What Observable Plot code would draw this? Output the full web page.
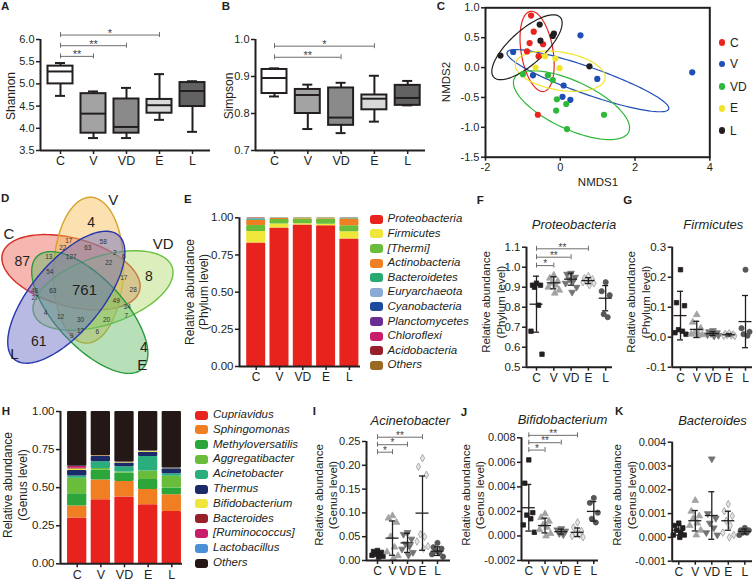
<!DOCTYPE html>
<html><head><meta charset="utf-8">
<script src="https://cdn.jsdelivr.net/npm/d3@7"></script>
<script src="https://cdn.jsdelivr.net/npm/@observablehq/plot@0.6"></script>
<style>
body{margin:0;background:#fff;}
#root{position:relative;width:756px;height:581px;overflow:hidden;font-family:"Liberation Sans",Arial,Helvetica,sans-serif;color:#231f20;}
.lbl{position:absolute;white-space:nowrap;line-height:1;}
</style></head><body><div id="root"></div>
<script>
// ---------------- DATA ----------------
const groups = ["C", "V", "VD", "E", "L"];

// A: Shannon box plots
const shannonLow  = [4.73, 3.78, 3.78, 4.19, 3.92];
const shannonQ1   = [5.00, 3.89, 3.89, 4.34, 4.49];
const shannonMed  = [5.28, 4.33, 4.03, 4.52, 4.84];
const shannonQ3   = [5.40, 4.78, 4.66, 4.65, 5.03];
const shannonHigh = [5.47, 4.83, 4.91, 5.22, 5.06];
const shannonSig = [["C", "V", "**"], ["C", "VD", "**"], ["C", "E", "*"]];

// B: Simpson box plots
const simpsonLow  = [0.846, 0.758, 0.747, 0.778, 0.822];
const simpsonQ1   = [0.854, 0.800, 0.768, 0.810, 0.822];
const simpsonMed  = [0.896, 0.850, 0.789, 0.840, 0.842];
const simpsonQ3   = [0.919, 0.865, 0.869, 0.850, 0.876];
const simpsonHigh = [0.922, 0.878, 0.883, 0.902, 0.888];
const simpsonSig = [["C", "VD", "**"], ["C", "E", "*"]];
const boxFills = ["#ffffff", "#a3a3a3", "#8a8a8a", "#d9d9d9", "#626262"];

// C: NMDS points
const nmdsX = {
  C:  [-0.78, -0.71, -0.82, -0.46, -0.89, -0.58, -0.60],
  V:  [0.54, -1.26, -0.73, 0.09, 0.99, 0.06, 0.27, 3.53],
  VD: [-1.00, -0.33, -0.20, -0.09, 0.16, -0.11, 1.17, 0.18],
  E:  [-0.41, -0.13, -0.02, -0.66],
  L:  [-0.55, -0.17, -0.20, -0.53, -1.60, 0.78]
};
const nmdsY = {
  C:  [0.87, 0.60, 0.41, 0.39, 0.27, 0.19, -0.79],
  V:  [0.54, 0.26, -0.13, -0.30, -0.19, -0.49, -0.54, -0.08],
  VD: [-0.11, -0.13, -0.21, -0.53, -0.61, -0.72, -0.79, -1.03],
  E:  [0.19, 0.15, -0.01, 0.00],
  L:  [0.72, 0.57, 0.53, 0.45, 0.20, 0.02]
};
const nmdsColors = ["#e8251f", "#1f4fb4", "#2db83a", "#f1e52a", "#231f20"];
// confidence ellipses: centre + two conjugate half-axes (data units), order C,V,VD,E,L
const ellCx = [-0.62, 0.74, 0.30, 0.00, -0.89];
const ellCy = [0.27, -0.22, -0.63, -0.06, 0.34];
const ellAx = [-0.18, 2.16, 1.53, 1.20, 0.89];
const ellAy = [0.67, -0.445, -0.447, -0.127, 0.50];
const ellBx = [0.42, 0.142, -0.27, -0.086, 0.305];
const ellBy = [0.044, -0.269, -0.363, -0.313, -0.21];

// D: Venn (5 sets)
const vennSets   = ["C", "V", "VD", "E", "L"];
const vennStroke = ["#d42a22", "#d9a12b", "#6cc143", "#2a9a3c", "#2636ad"];
const vennFill   = ["#ec5f50", "#f5bd4e", "#b3da6c", "#5fba63", "#6466c4"];
const vennCx = [70.5, 88.0, 102.5, 89.3, 65.8];
const vennCy = [271.7, 269.7, 290.0, 312.0, 296.7];
const vennA  = [71, 73, 73, 77, 81];
const vennB  = [34, 35, 34, 34, 35];
const vennAngle = [15, -88, -18.6, 47, -50];
const vennSetLabelX = [8.3, 112.7, 162.7, 141.7, 14];
const vennSetLabelY = [233.3, 199.3, 243.3, 365, 353.3];
const vennBig  = ["87", "4", "8", "4", "61", "761"];
const vennBigX = [21.7, 90.7, 148.3, 143.3, 38.3, 84];
const vennBigY = [260.7, 221.7, 276, 347.3, 340.7, 289.3];
const vennSmall  = ["17","58","22","63","13","127","2","6","22","54","17","28","48","63","27","49","34","7","4","12","30","20","17","6","9"];
const vennSmallX = [68.3,102.7,62.3,87.3,48.3,70.7,114.3,123.3,108.3,49.3,123.3,132.7,34,52.3,34.5,115.7,126.7,125.7,45,60,80,106,80,96.7,71];
const vennSmallY = [240.7,241.7,247.3,247.3,256,256,252.7,256,262.3,271.7,277.3,289.3,290,290.7,297.5,300.7,306.7,315,312.7,316.7,319,319.3,330.7,331.7,335.7];

// E: phylum composition
const phyla = ["Proteobacteria", "Firmicutes", "[Thermi]", "Actinobacteria", "Bacteroidetes", "Euryarchaeota", "Cyanobacteria", "Planctomycetes", "Chloroflexi", "Acidobacteria", "Others"];
const phylumColors = ["#e8231e", "#efe63a", "#6abd3a", "#ef7f22", "#27a96f", "#8aaad6", "#1c4b9e", "#6a2d92", "#c81e6a", "#981e2a", "#9b6a22"];
const phylumC  = [0.830, 0.078, 0.040, 0.035, 0.008, 0.002, 0.002, 0.001, 0.001, 0.001, 0.002];
const phylumV  = [0.932, 0.026, 0.030, 0.008, 0.001, 0.001, 0.001, 0.000, 0.000, 0.000, 0.001];
const phylumVD = [0.952, 0.008, 0.032, 0.005, 0.001, 0.0005, 0.0005, 0.000, 0.000, 0.000, 0.001];
const phylumE  = [0.946, 0.010, 0.036, 0.005, 0.001, 0.0005, 0.0005, 0.000, 0.000, 0.000, 0.001];
const phylumL  = [0.857, 0.050, 0.040, 0.045, 0.004, 0.001, 0.001, 0.000, 0.000, 0.000, 0.002];

// F: Proteobacteria
const proteoValues = [
  [0.92, 0.91, 0.91, 0.90, 0.81, 0.68, 0.565],
  [0.96, 0.945, 0.93, 0.92, 0.91, 0.90, 0.885, 0.87],
  [0.97, 0.965, 0.95, 0.94, 0.93, 0.92, 0.90, 0.875],
  [0.955, 0.945, 0.94, 0.935, 0.93, 0.925, 0.92, 0.91],
  [0.925, 0.88, 0.86, 0.765, 0.75]
];
const proteoMean = [0.815, 0.922, 0.940, 0.933, 0.845];
const proteoSD   = [0.140, 0.030, 0.030, 0.015, 0.063];
const proteoSig = [["C", "V", "*"], ["C", "VD", "**"], ["C", "E", "**"]];

// G: Firmicutes
const firmValues = [
  [0.225, 0.115, 0.105, 0.025, 0.020, 0.015, 0.010],
  [0.075, 0.050, 0.030, 0.015, 0.010, 0.010, 0.008, 0.005],
  [0.022, 0.018, 0.015, 0.012, 0.010, 0.008, 0.006, 0.004],
  [0.013, 0.011, 0.009, 0.007, 0.006, 0.005, 0.004],
  [0.225, 0.030, 0.018, 0.010, 0.005]
];
const firmMean = [0.072, 0.026, 0.012, 0.008, 0.052];
const firmSD   = [0.081, 0.027, 0.006, 0.004, 0.087];

// H: genus composition
const genera = ["Cupriavidus", "Sphingomonas", "Methyloversatilis", "Aggregatibacter", "Acinetobacter", "Thermus", "Bifidobacterium", "Bacteroides", "[Ruminococcus]", "Lactobacillus", "Others"];
const genusColors = ["#e8231e", "#ef7f22", "#2ca63a", "#6abd3a", "#2aae7c", "#1b2a68", "#efe63a", "#981e2a", "#c81e6a", "#4a90d6", "#231815"];
const genusC  = [0.300, 0.080, 0.080, 0.102, 0.015, 0.036, 0.010, 0.004, 0.012, 0.002, 0.359];
const genusV  = [0.420, 0.130, 0.065, 0.010, 0.045, 0.035, 0.002, 0.001, 0.001, 0.001, 0.290];
const genusVD = [0.438, 0.102, 0.057, 0.005, 0.035, 0.025, 0.003, 0.002, 0.001, 0.001, 0.331];
const genusE  = [0.387, 0.101, 0.066, 0.056, 0.095, 0.028, 0.004, 0.001, 0.001, 0.001, 0.260];
const genusL  = [0.344, 0.109, 0.044, 0.078, 0.016, 0.033, 0.002, 0.001, 0.001, 0.001, 0.371];

// I: Acinetobacter
const acinValues = [
  [0.021, 0.019, 0.017, 0.015, 0.013, 0.011, 0.009, 0.007],
  [0.094, 0.089, 0.080, 0.050, 0.028, 0.018, 0.010, 0.005],
  [0.059, 0.055, 0.045, 0.035, 0.030, 0.024, 0.017, 0.011],
  [0.215, 0.197, 0.180, 0.055, 0.050, 0.040, 0.030, 0.025],
  [0.037, 0.028, 0.025, 0.020, 0.017, 0.013, 0.008]
];
const acinMean = [0.014, 0.047, 0.037, 0.0995, 0.0196];
const acinSD   = [0.005, 0.036, 0.020, 0.078, 0.009];
const acinSig = [["C", "V", "*"], ["C", "VD", "*"], ["C", "E", "**"]];

// J: Bifidobacterium
const bifValues = [
  [0.0062, 0.0043, 0.0019, 0.0017, 0.0014, 0.0009, 0.0003],
  [0.0018, 0.0015, 0.0012, 0.0009, 0.0007, 0.0005, 0.0002, 0.0000],
  [0.0006, 0.0005, 0.0004, 0.0002, 0.0001],
  [0.0011, 0.0007, 0.0004, 0.0002, 0.0001, 0.0000, -0.0001],
  [0.0031, 0.0027, 0.0019, 0.0014, 0.0011]
];
const bifMean = [0.0023, 0.00085, 0.00035, 0.0003, 0.0020];
const bifSD   = [0.0019, 0.0006, 0.0002, 0.00035, 0.0008];
const bifSig = [["C", "V", "*"], ["C", "VD", "**"], ["C", "E", "**"]];

// K: Bacteroides
const bacValues = [
  [0.0006, 0.0005, 0.0004, 0.0003, 0.0002, 0.0001, 0.0001, 0.0000],
  [0.00155, 0.0011, 0.0009, 0.0008, 0.0006, 0.0005, 0.0003, 0.0001],
  [0.0033, 0.0010, 0.0008, 0.0006, 0.0004, 0.0002, 0.0001],
  [0.0014, 0.0011, 0.0009, 0.0007, 0.0005, 0.0002, 0.0001, 0.0000],
  [0.0004, 0.0003, 0.0003, 0.0002, 0.0002, 0.0001]
];
const bacMean = [0.0003, 0.0007, 0.00092, 0.0007, 0.00025];
const bacSD   = [0.0002, 0.00043, 0.0010, 0.0004, 0.0001];

// ---------------- HELPERS ----------------
const root = document.getElementById("root");
const FONT = '"Liberation Sans", Arial, Helvetica, sans-serif';
const INK = "#231f20";

function txt(s, x, y, o = {}) {
  const d = document.createElement("div");
  d.className = "lbl";
  d.textContent = s;
  d.style.left = x + "px";
  d.style.top = y + "px";
  d.style.fontSize = (o.size || 12) + "px";
  if (o.bold) d.style.fontWeight = "bold";
  if (o.italic) d.style.fontStyle = "italic";
  if (o.color) d.style.color = o.color;
  const a = o.anchor || "middle";
  const tx = a === "start" ? "0" : a === "end" ? "-100%" : "-50%";
  d.style.transform = `translate(${tx},-50%)` + (o.rotate ? ` rotate(${o.rotate}deg)` : "");
  root.append(d);
}

function plotAt(c, opts) {
  const p = Plot.plot({
    width: c.width, height: c.height,
    marginLeft: c.x0 - c.left, marginRight: c.left + c.width - c.x1,
    marginTop: c.y0 - c.top, marginBottom: c.top + c.height - c.y1,
    style: {fontFamily: FONT, fontSize: "11px", color: INK, background: "transparent", overflow: "visible"},
    ...opts
  });
  p.style.position = "absolute";
  p.style.left = c.left + "px";
  p.style.top = c.top + "px";
  root.append(p);
  return p;
}

const fmt = (k) => (d) => (d < -1e-12 ? "-" : "") + Math.abs(d).toFixed(k);
const xDom = (c) => [(c.x0 - c.cat0) / c.sp, (c.x1 - c.cat0) / c.sp];

function catAxis(fs) {
  return Plot.axisX({ticks: d3.range(groups.length), tickFormat: (i) => groups[i], tickSize: 4, tickPadding: 2, fontSize: fs, strokeWidth: 1.5, label: null});
}
function valAxis(ticks, f, fs) {
  return Plot.axisY({ticks, tickFormat: f, tickSize: 4, tickPadding: 2, fontSize: fs, strokeWidth: 1.5, label: null});
}
function axisLines(xd, yd) {
  return [Plot.ruleX([xd[0]], {stroke: INK, strokeWidth: 2}), Plot.ruleY([yd[0]], {stroke: INK, strokeWidth: 2})];
}
function sigMarks(pairs, base, step, c, yd, fs = 11) {
  const perPx = (yd[1] - yd[0]) / (c.y1 - c.y0);
  const t = 2.5 * perPx;
  const rows = pairs.map((p, k) => ({x1: groups.indexOf(p[0]), x2: groups.indexOf(p[1]), y: base + k * step, label: p[2]}));
  return [
    Plot.ruleY(rows, {y: "y", x1: "x1", x2: "x2", stroke: "#6e6e6e", strokeWidth: 1}),
    Plot.ruleX(rows, {x: "x1", y1: (d) => d.y - t, y2: (d) => d.y + t, stroke: "#6e6e6e", strokeWidth: 1}),
    Plot.ruleX(rows, {x: "x2", y1: (d) => d.y - t, y2: (d) => d.y + t, stroke: "#6e6e6e", strokeWidth: 1}),
    Plot.text(rows, {x: (d) => (d.x1 + d.x2) / 2, y: "y", text: "label", dy: -1.5, fontSize: fs, fill: "#444", lineAnchor: "middle"})
  ];
}

// ---------------- PANEL LETTERS ----------------
[["A", 1, 7], ["B", 221.7, 7], ["C", 436.7, 7.3], ["D", 1, 199.3], ["E", 184, 200], ["F", 476.7, 201], ["G", 623.3, 201],
 ["H", 1.7, 411.7], ["I", 312.7, 412], ["J", 460.7, 413], ["K", 615, 412.3]].forEach(([s, x, y]) => txt(s, x, y, {bold: true, size: 11.5, anchor: "start"}));

// ---------------- A & B: box plots ----------------
function boxPanel(c, lo, q1, med, q3, hi, yd, ticks, sig, base, step) {
  const xd = xDom(c);
  const rows = groups.map((g, i) => ({i, lo: lo[i], q1: q1[i], med: med[i], q3: q3[i], hi: hi[i], fill: boxFills[i]}));
  const hw = 12.5 / c.sp, cw = 5 / c.sp;
  plotAt(c, {
    x: {domain: xd}, y: {domain: yd}, color: {type: "identity"},
    marks: [
      Plot.ruleX(rows, {x: "i", y1: "lo", y2: "q1", stroke: INK, strokeWidth: 2}),
      Plot.ruleX(rows, {x: "i", y1: "q3", y2: "hi", stroke: INK, strokeWidth: 2}),
      Plot.ruleY(rows, {y: "lo", x1: (d) => d.i - cw, x2: (d) => d.i + cw, stroke: INK, strokeWidth: 2}),
      Plot.ruleY(rows, {y: "hi", x1: (d) => d.i - cw, x2: (d) => d.i + cw, stroke: INK, strokeWidth: 2}),
      Plot.rect(rows, {x1: (d) => d.i - hw, x2: (d) => d.i + hw, y1: "q1", y2: "q3", fill: "fill", stroke: INK, strokeWidth: 2}),
      Plot.ruleY(rows, {y: "med", x1: (d) => d.i - hw, x2: (d) => d.i + hw, stroke: INK, strokeWidth: 2}),
      ...sigMarks(sig, base, step, c, yd),
      valAxis(ticks, fmt(1), 11), catAxis(12.5), ...axisLines(xd, yd)
    ]
  });
}
boxPanel({left: 10, top: 22, width: 205, height: 155, x0: 40, x1: 210, y0: 39, y1: 150, cat0: 60, sp: 33},
  shannonLow, shannonQ1, shannonMed, shannonQ3, shannonHigh, [3.5, 6.0], [3.5, 4.0, 4.5, 5.0, 5.5, 6.0], shannonSig, 5.62, 0.24);
txt("Shannon", 10.5, 96, {size: 12, rotate: -90});
boxPanel({left: 225, top: 22, width: 205, height: 155, x0: 255, x1: 425, y0: 39, y1: 150, cat0: 274, sp: 33.3},
  simpsonLow, simpsonQ1, simpsonMed, simpsonQ3, simpsonHigh, [0.7, 1.0], [0.7, 0.8, 0.9, 1.0], simpsonSig, 0.952, 0.030);
txt("Simpson", 228.5, 96, {size: 12, rotate: -90});

// ---------------- C: NMDS ----------------
{
  const c = {left: 455, top: 0, width: 262, height: 175, x0: 485, x1: 709.3, y0: 7.3, y1: 156.7};
  const ell = groups.flatMap((g, i) => d3.range(0, 361, 3).map((t) => {
    const r = t * Math.PI / 180;
    return {g, x: ellCx[i] + ellAx[i] * Math.cos(r) + ellBx[i] * Math.sin(r), y: ellCy[i] + ellAy[i] * Math.cos(r) + ellBy[i] * Math.sin(r)};
  }));
  const pts = groups.flatMap((g) => nmdsX[g].map((x, k) => ({g, x, y: nmdsY[g][k]})));
  plotAt(c, {
    x: {domain: [-2, 4]}, y: {domain: [-1.5, 1.0]},
    color: {domain: groups, range: nmdsColors},
    marks: [
      Plot.line(ell, {x: "x", y: "y", z: "g", stroke: "g", strokeWidth: 1.2}),
      Plot.dot(pts, {x: "x", y: "y", fill: "g", r: 3.1}),
      Plot.frame({stroke: INK, strokeWidth: 2}),
      Plot.axisX({ticks: [-2, 0, 2, 4], tickFormat: fmt(0), tickSize: 4, tickPadding: 2, fontSize: 11, strokeWidth: 1.5, label: null}),
      Plot.axisY({ticks: [-1.5, -1.0, -0.5, 0, 0.5, 1.0], tickFormat: fmt(1), tickSize: 4, tickPadding: 2, fontSize: 11, strokeWidth: 1.5, label: null})
    ]
  });
  txt("NMDS1", 598, 183, {size: 11.5});
  txt("NMDS2", 447, 82, {size: 11.5, rotate: -90});
  const ly = [42.7, 64, 86.7, 108.3, 130.7];
  groups.forEach((g, i) => {
    const d = document.createElement("div");
    d.style.cssText = `position:absolute;left:${718.5}px;top:${ly[i] - 3.3}px;width:6.6px;height:6.6px;border-radius:50%;background:${nmdsColors[i]}`;
    root.append(d);
    txt(g, 730, ly[i], {size: 12, anchor: "start"});
  });
}

// ---------------- D: Venn ----------------
{
  const c = {left: 0, top: 188, width: 180, height: 190, x0: 0, x1: 180, y0: 188, y1: 378};
  const marks = vennSets.map((s, i) => {
    const th = vennAngle[i] * Math.PI / 180;
    const pts = d3.range(0, 360, 3).map((t) => {
      const r = t * Math.PI / 180;
      const ex = vennA[i] * Math.cos(r), ey = vennB[i] * Math.sin(r);
      return {x: vennCx[i] + ex * Math.cos(th) - ey * Math.sin(th), y: vennCy[i] + ex * Math.sin(th) + ey * Math.cos(th)};
    });
    return Plot.line(pts, {x: "x", y: "y", curve: "linear-closed", fill: vennFill[i], fillOpacity: 0.45, stroke: vennStroke[i], strokeWidth: 1.4});
  });
  const big = vennBig.map((t, i) => ({t, x: vennBigX[i], y: vennBigY[i], s: t === "761" ? 15 : 14}));
  const small = vennSmall.map((t, i) => ({t, x: vennSmallX[i], y: vennSmallY[i]}));
  const setl = vennSets.map((t, i) => ({t, x: vennSetLabelX[i], y: vennSetLabelY[i]}));
  plotAt(c, {
    x: {domain: [0, 180], axis: null}, y: {domain: [188, 378], range: [0, 190], axis: null},
    marks: [
      ...marks,
      Plot.text(big, {x: "x", y: "y", text: "t", fontSize: (d) => d.s, fill: INK}),
      Plot.text(small, {x: "x", y: "y", text: "t", fontSize: 6.5, fill: "#333"}),
      Plot.text(setl, {x: "x", y: "y", text: "t", fontSize: 15, fill: INK})
    ]
  });
}

// ---------------- stacked bars (E, H) ----------------
function stackPanel(c, taxa, colors, tables, fsTick, fsCat) {
  const xd = xDom(c);
  const hw = c.bw / 2 / c.sp;
  const rows = groups.flatMap((g, i) => {
    let acc = 0;
    return taxa.map((t, k) => {
      const y1 = acc; acc += tables[i][k];
      return {i, k, y1, y2: acc};
    });
  });
  plotAt(c, {
    x: {domain: xd}, y: {domain: [0, 1]}, color: {type: "identity"},
    marks: [
      Plot.rect(rows.filter((d) => d.y2 > d.y1), {x1: (d) => d.i - hw, x2: (d) => d.i + hw, y1: "y1", y2: "y2", fill: (d) => colors[d.k], rx: 1}),
      valAxis([0, 0.25, 0.5, 0.75, 1.0], fmt(2), fsTick), catAxis(fsCat), ...axisLines(xd, [0, 1])
    ]
  });
}
function swatchLegend(names, colors, x, y0, dy, fs, tx) {
  names.forEach((n, k) => {
    const sw = document.createElement("div");
    sw.style.cssText = `position:absolute;left:${x}px;top:${y0 + k * dy - 4.5}px;width:13px;height:9px;border-radius:3px;background:${colors[k]}`;
    root.append(sw);
    txt(n, tx, y0 + k * dy, {size: fs, italic: true, anchor: "start"});
  });
}
stackPanel({left: 200, top: 205, width: 165, height: 175, x0: 239, x1: 360, y0: 217.3, y1: 366, cat0: 255.7, sp: 23.3, bw: 19},
  phyla, phylumColors, [phylumC, phylumV, phylumVD, phylumE, phylumL], 11.5, 12);
txt("Relative  abundance", 190, 292, {size: 12, rotate: -90});
txt("(Phylum level)", 203.5, 292, {size: 12, rotate: -90});
swatchLegend(phyla, phylumColors, 370, 219.3, 14.6, 11.5, 387.5);

stackPanel({left: 25, top: 400, width: 160, height: 181, x0: 60, x1: 182, y0: 411, y1: 563.3, cat0: 76.7, sp: 23.65, bw: 19.3},
  genera, genusColors, [genusC, genusV, genusVD, genusE, genusL], 11.5, 12.5);
txt("Relative abundance", 8, 485, {size: 12, rotate: -90});
txt("(Genus level)", 23, 485, {size: 12, rotate: -90});
swatchLegend(genera, genusColors, 195, 415, 14.8, 11.5, 213);

// ---------------- scatter panels (F, G, I, J, K) ----------------
const markerSpec = [
  {symbol: "square", fill: INK, stroke: INK, rotate: 0, r: 2.5},
  {symbol: "triangle", fill: "#a3a3a3", stroke: "#a3a3a3", rotate: 0, r: 2.5},
  {symbol: "triangle", fill: "#737373", stroke: "#737373", rotate: 180, r: 2.5},
  {symbol: "diamond", fill: "#e4e4e4", stroke: "#9a9a9a", rotate: 0, r: 2.3},
  {symbol: "circle", fill: "#575757", stroke: "#575757", rotate: 0, r: 2.6}
];
const spreadPx = [0, -4, 4, -2, 2, -5.5, 5.5, 1];
function scatterPanel(c, values, means, sds, yd, ticks, f, sig, base, step) {
  const xd = xDom(c);
  const pts = values.flatMap((arr, i) => arr.slice().sort((a, b) => b - a).map((v, k) => ({i, x: i + spreadPx[k % spreadPx.length] / c.sp, v})));
  const st = means.map((m, i) => ({i, m, s: sds[i]}));
  const cw = 3 / c.sp, mw = 6.5 / c.sp;
  plotAt(c, {
    x: {domain: xd}, y: {domain: yd},
    marks: [
      ...markerSpec.map((m, i) => Plot.dot(pts.filter((d) => d.i === i), {x: "x", y: "v", symbol: m.symbol, fill: m.fill, stroke: m.stroke, strokeWidth: 0.8, r: m.r, rotate: m.rotate})),
      Plot.ruleX(st, {x: "i", y1: (d) => d.m - d.s, y2: (d) => d.m + d.s, stroke: INK, strokeWidth: 1.3}),
      Plot.ruleY(st, {y: (d) => d.m + d.s, x1: (d) => d.i - cw, x2: (d) => d.i + cw, stroke: INK, strokeWidth: 1.3}),
      Plot.ruleY(st, {y: (d) => d.m - d.s, x1: (d) => d.i - cw, x2: (d) => d.i + cw, stroke: INK, strokeWidth: 1.3}),
      Plot.ruleY(st, {y: "m", x1: (d) => d.i - mw, x2: (d) => d.i + mw, stroke: INK, strokeWidth: 1.3}),
      ...(sig ? sigMarks(sig, base, step, c, yd, 10) : []),
      valAxis(ticks, f, c.fsTick), catAxis(c.fsCat), ...axisLines(xd, yd)
    ]
  });
}

scatterPanel({left: 500, top: 232, width: 115, height: 150, x0: 526, x1: 612, y0: 246.7, y1: 366.7, cat0: 536, sp: 17.3, fsTick: 11.5, fsCat: 12},
  proteoValues, proteoMean, proteoSD, [0.5, 1.1], [0.5, 0.6, 0.7, 0.8, 0.9, 1.0, 1.1], fmt(1), proteoSig, 1.008, 0.042);
txt("Proteobacteria", 574, 224, {size: 13, italic: true});
txt("Relative  abundance", 487, 302, {size: 11.5, rotate: -90});
txt("(Phylum level)", 501.5, 302, {size: 11.5, rotate: -90});

scatterPanel({left: 640, top: 232, width: 116, height: 150, x0: 671.7, x1: 752, y0: 246.7, y1: 366.7, cat0: 680, sp: 16.25, fsTick: 11.5, fsCat: 12},
  firmValues, firmMean, firmSD, [-0.1, 0.3], [-0.1, 0.0, 0.1, 0.2, 0.3], fmt(1), null);
txt("Firmicutes", 713.3, 224, {size: 13, italic: true});
txt("Relative  abundance", 631.7, 302, {size: 11.5, rotate: -90});
txt("(Phylum level)", 646.5, 302, {size: 11.5, rotate: -90});

scatterPanel({left: 335, top: 425, width: 120, height: 150, x0: 366, x1: 450, y0: 441, y1: 560, cat0: 377, sp: 15, fsTick: 11, fsCat: 12},
  acinValues, acinMean, acinSD, [0, 0.25], [0, 0.05, 0.10, 0.15, 0.20, 0.25], fmt(2), acinSig, 0.2276, 0.0157);
txt("Acinetobacter", 410.3, 420, {size: 13, italic: true});
txt("Relative  abundance", 320, 495, {size: 11.5, rotate: -90});
txt("(Genus level)", 333.5, 495, {size: 11.5, rotate: -90});

scatterPanel({left: 485, top: 425, width: 116, height: 150, x0: 521, x1: 598, y0: 437.3, y1: 560, cat0: 528.3, sp: 16.25, fsTick: 11, fsCat: 12},
  bifValues, bifMean, bifSD, [-0.002, 0.008], [-0.002, 0.0, 0.002, 0.004, 0.006, 0.008], fmt(3), bifSig, 0.0070, 0.0006);
txt("Bifidobacterium", 562.5, 419, {size: 13, italic: true});
txt("Relative  abundance", 466.7, 495, {size: 11.5, rotate: -90});
txt("(Genus level)", 480.7, 495, {size: 11.5, rotate: -90});

scatterPanel({left: 635, top: 425, width: 121, height: 150, x0: 671.7, x1: 752, y0: 441.7, y1: 560.7, cat0: 678.3, sp: 16.5, fsTick: 11, fsCat: 12},
  bacValues, bacMean, bacSD, [-0.001, 0.004], [-0.001, 0.0, 0.001, 0.002, 0.003, 0.004], fmt(3), null);
txt("Bacteroides", 712.5, 420, {size: 13, italic: true});
txt("Relative  abundance", 618.3, 495, {size: 11.5, rotate: -90});
txt("(Genus level)", 633.3, 495, {size: 11.5, rotate: -90});
</script></body></html>
